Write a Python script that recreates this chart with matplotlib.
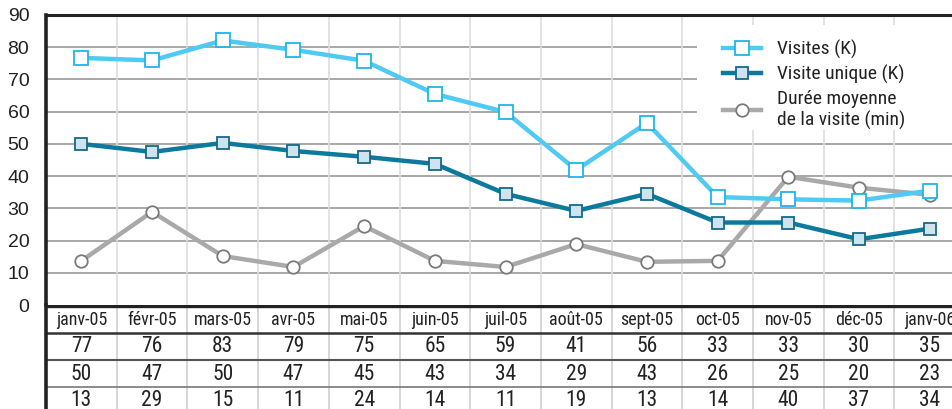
import matplotlib.pyplot as plt
from matplotlib import font_manager
from matplotlib.font_manager import FontProperties
from matplotlib.patches import Rectangle
import numpy as np

months = ['janv-05', 'févr-05', 'mars-05', 'avr-05', 'mai-05', 'juin-05', 'juil-05',
          'août-05', 'sept-05', 'oct-05', 'nov-05', 'déc-05', 'janv-06']

# plotted values
visites = [76.7, 75.9, 82.1, 79.2, 75.8, 65.5, 59.9, 41.9, 56.5, 33.5, 32.8, 32.4, 35.5]
unique = [50.0, 47.5, 50.3, 47.8, 46.0, 43.8, 34.5, 29.2, 34.5, 25.6, 25.6, 20.4, 23.7]
duree = [13.7, 28.9, 15.2, 11.8, 24.5, 13.7, 11.8, 18.9, 13.4, 13.7, 39.8, 36.4, 34.2]

# values printed in the data table
tab_visites = [77, 76, 83, 79, 75, 65, 59, 41, 56, 33, 33, 30, 35]
tab_unique = [50, 47, 50, 47, 45, 43, 34, 29, 43, 26, 25, 20, 23]
tab_duree = [13, 29, 15, 11, 24, 14, 11, 19, 13, 14, 40, 37, 34]

# look for a narrow sans font file, else fall back to Liberation Sans
files = [f.fname for f in font_manager.fontManager.ttflist]
narrow_file = None
for key in ['LiberationSansNarrow-Regular', 'RobotoCondensed-Regular', 'DejaVuSansCondensed.ttf',
            'OpenSans_Condensed-Regular', 'OpenSansCondensed']:
    hits = [f for f in files if key in f]
    if hits:
        narrow_file = hits[0]
        break
if narrow_file is None:
    import glob
    for pat in ['/usr/share/fonts/**/*Narrow*Regular*.ttf', '/usr/share/fonts/**/*Condensed*.ttf']:
        hits = [h for h in glob.glob(pat, recursive=True) if 'Bold' not in h and 'Oblique' not in h and 'Italic' not in h]
        if hits:
            narrow_file = sorted(hits)[0]
            break


def nfont(size):
    if narrow_file:
        return FontProperties(fname=narrow_file, size=size)
    return FontProperties(family='Liberation Sans', size=size * 0.9)


W, H = 953, 409
fig = plt.figure(figsize=(W / 100, H / 100), dpi=100)

left_px, top_px, bot_px = 46, 15, 305
col_w = 70.7
ax_w = 13 * col_w
ax_h = bot_px - top_px
ax = fig.add_axes([left_px / W, (H - bot_px) / H, ax_w / W, ax_h / H])
x = np.arange(len(months))
ax.set_xlim(-0.5, 12.5)
ax.set_ylim(0, 90)


def axpos(px, py):
    # figure pixel -> axes fraction
    return (px - left_px) / ax_w, (bot_px - py) / ax_h


# grid
for v in range(10, 90, 10):
    ax.axhline(v, color='#999999', lw=1.2, zorder=1)
for b in np.arange(0.5, 12.5, 1):
    ax.axvline(b, color='#dddddd', lw=1.2, zorder=1)

# white panel behind the legend
x0, y1 = axpos(697, 130)
ax.add_patch(Rectangle((x0, y1), 1.2 - x0, axpos(0, 25)[1] - y1, transform=ax.transAxes,
                       facecolor='white', edgecolor='none', zorder=2))

ax.plot(x, duree, color='#a9a9a9', lw=3.2, marker='o', ms=9, mfc='white',
        mec='#7a7a7a', mew=1.3, zorder=3, label='Durée moyenne\nde la visite (min)')
ax.plot(x, unique, color='#0b7a9c', lw=3.2, marker='s', ms=9, mfc='#cfe3ee',
        mec='#17698a', mew=1.3, zorder=4, label='Visite unique (K)')
ax.plot(x, visites, color='#4fcaf2', lw=3.2, marker='s', ms=9.5, mfc='white',
        mec='#1db6ea', mew=1.3, zorder=5, label='Visites (K)')

for s in ['right', 'bottom']:
    ax.spines[s].set_visible(False)
ax.spines['top'].set_linewidth(2.2)
ax.spines['left'].set_linewidth(2.6)
ax.spines['top'].set_color('#222222')
ax.spines['left'].set_color('#222222')
ax.set_xticks([])
ax.set_yticks(range(0, 100, 10))
ax.tick_params(axis='y', length=0, pad=12, labelsize=14, labelcolor='#222222')
for lab in ax.get_yticklabels():
    lab.set_family('Liberation Sans')

h, l = ax.get_legend_handles_labels()
leg = ax.legend(h[::-1], l[::-1], loc='upper left', bbox_to_anchor=axpos(723, 40),
                frameon=False, borderaxespad=0, borderpad=0, handlelength=1.95,
                handletextpad=0.85, labelspacing=0.3, prop=nfont(14))
leg.set_zorder(10)
for t in leg.get_texts():
    t.set_color('#222222')

# data table below the axes
tab = fig.add_axes([left_px / W, 0, ax_w / W, (H - bot_px) / H])
tab.set_xlim(-0.5, 12.5)
tab.set_ylim(H, bot_px)
tab.axis('off')
for b in np.arange(0.5, 12.5, 1):
    tab.plot([b, b], [bot_px, H], color='#d0d0d0', lw=1.2)
tab.plot([-0.5, 12.5], [bot_px + 1, bot_px + 1], color='#222222', lw=2.4)
tab.plot([-0.5, 12.5], [333, 333], color='#333333', lw=1.8)
tab.plot([-0.5, 12.5], [360, 360], color='#555555', lw=1.5)
tab.plot([-0.5, 12.5], [387, 387], color='#777777', lw=1.2)
tab.plot([-0.5, -0.5], [bot_px, H], color='#222222', lw=2.6, clip_on=False)

for i, m in enumerate(months):
    tab.text(i, 320, m, ha='center', va='center', fontproperties=nfont(13), color='#222222')
    tab.text(i, 347, str(tab_visites[i]), ha='center', va='center', fontproperties=nfont(15.5), color='#222222')
    tab.text(i, 374, str(tab_unique[i]), ha='center', va='center', fontproperties=nfont(15.5), color='#222222')
    tab.text(i, 400, str(tab_duree[i]), ha='center', va='center', fontproperties=nfont(15.5), color='#222222')

fig.savefig('out.png', dpi=100)
